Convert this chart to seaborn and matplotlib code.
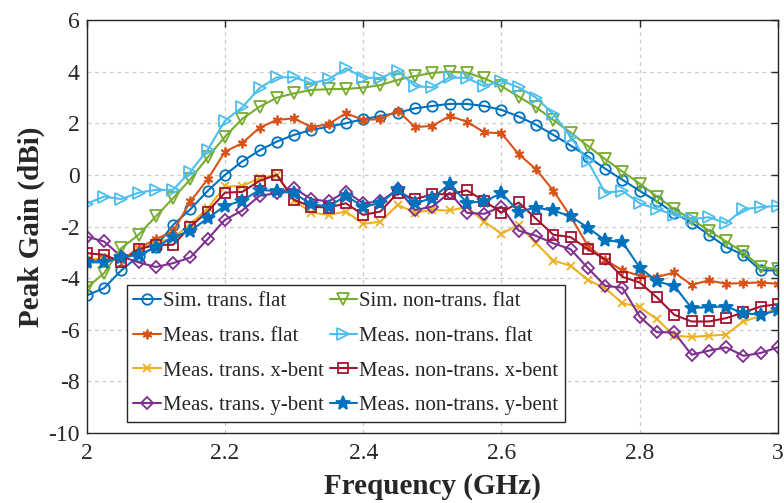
import numpy as np
import pandas as pd
import matplotlib
matplotlib.use("Agg")
import matplotlib.pyplot as plt
import seaborn as sns

freq = np.round(np.linspace(2.0, 3.0, 41), 3)

sim_trans_flat = [-4.67, -4.39, -3.70, -3.15, -2.78, -1.94, -1.33, -0.62, 0.00, 0.52,
                  0.95, 1.29, 1.55, 1.74, 1.87, 2.00, 2.16, 2.28, 2.41, 2.58,
                  2.67, 2.75, 2.75, 2.67, 2.52, 2.26, 1.94, 1.55, 1.14, 0.71,
                  0.24, -0.19, -0.62, -1.03, -1.48, -1.85, -2.32, -2.79, -3.10, -3.70, -3.70]
sim_nontrans_flat = [-4.38, -3.81, -2.84, -2.32, -1.61, -0.90, -0.17, 0.68, 1.48, 2.17,
                     2.64, 2.99, 3.16, 3.29, 3.32, 3.33, 3.38, 3.48, 3.68, 3.83,
                     3.95, 4.00, 3.96, 3.74, 3.44, 3.03, 2.62, 2.13, 1.64, 1.12,
                     0.61, 0.13, -0.34, -0.84, -1.33, -1.72, -2.16, -2.58, -3.00, -3.57, -3.65]
meas_trans_flat = [-3.42, -3.23, -3.29, -2.84, -2.49, -2.19, -1.03, -0.17, 0.90, 1.23,
                   1.83, 2.13, 2.19, 1.85, 1.97, 2.39, 2.13, 2.16, 2.49, 1.85,
                   1.90, 2.28, 2.06, 1.65, 1.61, 0.80, 0.22, -0.61, -1.61, -2.75,
                   -3.29, -3.70, -3.91, -3.96, -3.78, -4.26, -4.09, -4.22, -4.19, -4.17, -4.22]
meas_nontrans_flat = [-1.12, -0.84, -0.94, -0.69, -0.58, -0.58, 0.13, 0.97, 2.10, 2.62,
                      3.36, 3.78, 3.78, 3.55, 3.70, 4.13, 3.77, 3.75, 4.04, 3.44,
                      3.39, 3.78, 3.75, 3.44, 3.64, 3.39, 2.99, 2.36, 1.48, 0.52,
                      -0.69, -0.62, -1.10, -1.33, -1.55, -1.72, -1.64, -1.87, -1.33, -1.25, -1.20]
meas_trans_xbent = [-3.29, -3.23, -3.29, -2.90, -2.62, -2.45, -1.91, -1.29, -0.45, -0.43,
                    -0.13, 0.00, -1.00, -1.46, -1.55, -1.42, -1.90, -1.81, -1.16, -1.46,
                    -1.36, -1.38, -1.25, -1.81, -2.28, -1.94, -2.65, -3.32, -3.52, -4.07,
                    -4.39, -4.97, -5.12, -5.59, -6.23, -6.28, -6.23, -6.19, -5.68, -5.46, -5.12]
meas_nontrans_xbent = [-3.03, -3.10, -3.36, -2.88, -2.71, -2.71, -2.00, -1.42, -0.69, -0.66,
                       -0.23, 0.00, -0.97, -1.23, -1.27, -1.10, -1.55, -1.42, -0.69, -0.94,
                       -0.75, -0.75, -0.60, -1.01, -1.46, -1.07, -1.70, -2.32, -2.41, -2.88,
                       -3.27, -3.95, -4.17, -4.75, -5.42, -5.68, -5.68, -5.55, -5.33, -5.10, -5.01]
meas_trans_ybent = [-2.39, -2.58, -3.16, -3.39, -3.57, -3.42, -3.20, -2.49, -1.74, -1.38,
                    -0.81, -0.71, -0.52, -0.94, -1.03, -0.65, -1.10, -1.03, -0.55, -1.36,
                    -1.23, -0.69, -1.47, -1.51, -1.23, -2.16, -2.36, -2.65, -2.88, -3.61,
                    -4.30, -4.37, -5.49, -6.10, -6.10, -6.97, -6.81, -6.68, -7.01, -6.90, -6.68]
meas_nontrans_ybent = [-3.39, -3.39, -3.19, -3.10, -2.80, -2.41, -2.17, -1.68, -1.20, -1.00,
                       -0.58, -0.63, -0.71, -1.14, -1.23, -0.81, -1.23, -1.10, -0.55, -1.10,
                       -0.90, -0.35, -1.08, -1.03, -0.71, -1.42, -1.27, -1.38, -1.61, -2.04,
                       -2.54, -2.60, -3.59, -4.13, -4.30, -5.16, -5.12, -5.10, -5.36, -5.42, -5.25]

labels = ["Sim. trans. flat", "Meas. trans. flat", "Meas. trans. x-bent", "Meas. trans. y-bent",
          "Sim. non-trans. flat", "Meas. non-trans. flat", "Meas. non-trans. x-bent",
          "Meas. non-trans. y-bent"]
series = [sim_trans_flat, meas_trans_flat, meas_trans_xbent, meas_trans_ybent,
          sim_nontrans_flat, meas_nontrans_flat, meas_nontrans_xbent, meas_nontrans_ybent]
colors = ["#0072BD", "#D95319", "#EDB120", "#7E2F8E",
          "#77AC30", "#4DBEEE", "#A2142F", "#0072BD"]
markers = ["o", (6, 2, 0), "x", "D", "v", ">", "s", "*"]
filled = [False, True, True, False, False, False, False, True]
msizes = [7.5, 7, 6, 6.5, 8, 8, 6.5, 10]

x_ticks = [2, 2.2, 2.4, 2.6, 2.8, 3]
x_ticklabels = ["2", "2.2", "2.4", "2.6", "2.8", "3"]
y_ticks = [-10, -8, -6, -4, -2, 0, 2, 4, 6]

sns.set_style("white")
plt.rcParams["font.family"] = ["Liberation Serif", "DejaVu Serif"]
plt.rcParams["axes.unicode_minus"] = False

fig = plt.figure(figsize=(7.84, 5.03), dpi=100)
ax = fig.add_axes([0.1106, 0.1392, 0.8817, 0.8210])

for lab, vals, c, m, f, ms in zip(labels, series, colors, markers, filled, msizes):
    df = pd.DataFrame({"Frequency": freq, "Gain": vals})
    kw = dict(markeredgecolor=c, markeredgewidth=1.3)
    kw["markerfacecolor"] = c if f else "none"
    sns.lineplot(data=df, x="Frequency", y="Gain", ax=ax, color=c, marker=m,
                 markersize=ms, linewidth=1.5, label=lab, **kw)

ax.set_xlim(2, 3)
ax.set_ylim(-10, 6)
ax.set_xticks(x_ticks)
ax.set_xticklabels(x_ticklabels)
ax.set_yticks(y_ticks)
ax.grid(True, linestyle=(0, (3, 3)), color="#cccccc", linewidth=0.9)
ax.tick_params(direction="in", length=5, width=1, top=True, right=True,
               labelsize=17, colors="#262626", pad=7)
ax.tick_params(axis="y", pad=5)
for s in ax.spines.values():
    s.set_color("#262626")
    s.set_linewidth(1.0)
ax.set_xlabel("Frequency (GHz)", fontsize=21, fontweight="bold", labelpad=7)
ax.set_ylabel("Peak Gain (dBi)", fontsize=21, fontweight="bold", labelpad=2)

handles, leg_labels = ax.get_legend_handles_labels()
leg = ax.legend(handles, leg_labels, ncol=2, loc="lower left",
                bbox_to_anchor=(0.058, 0.027), fontsize=15, frameon=True,
                fancybox=False, edgecolor="#262626", framealpha=1,
                handlelength=1.3, handletextpad=0.1, columnspacing=0.3,
                labelspacing=0.72, borderpad=0.32, borderaxespad=0)
leg.get_frame().set_linewidth(1.0)

fig.savefig("out.png", dpi=100)
